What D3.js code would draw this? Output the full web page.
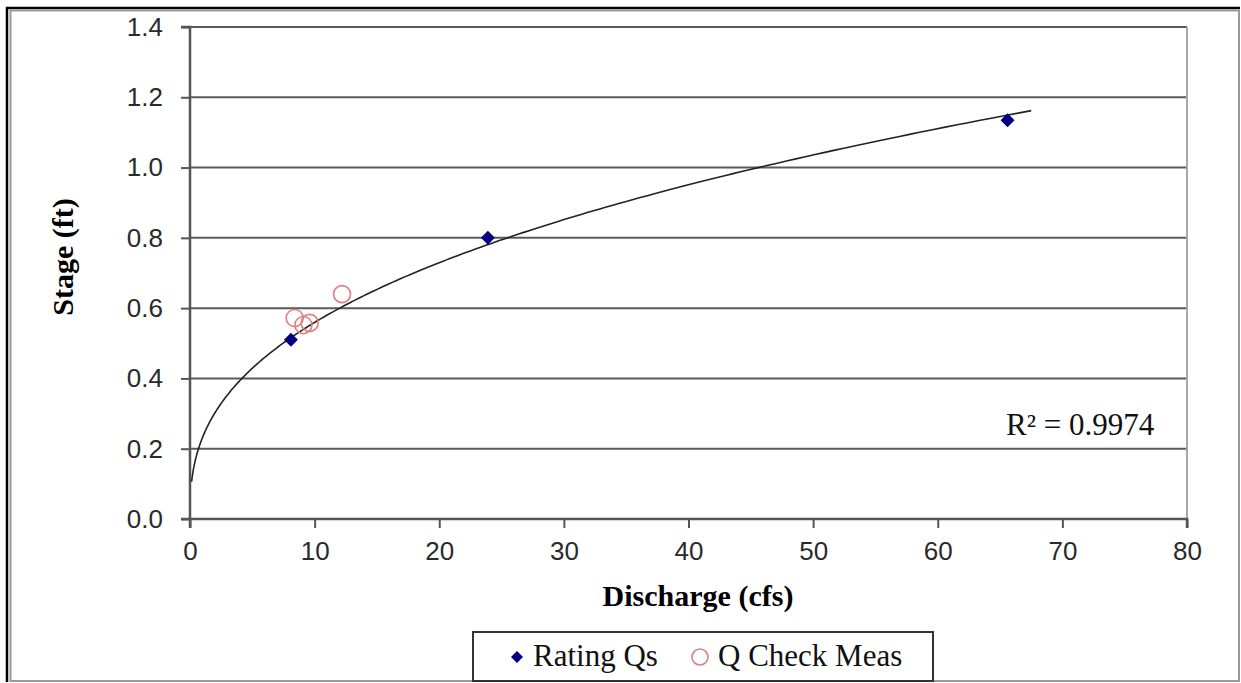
<!DOCTYPE html>
<html><head><meta charset="utf-8">
<script src="https://cdn.jsdelivr.net/npm/d3@7"></script>
<style>html,body{margin:0;padding:0;background:#fff;overflow:hidden}</style>
</head><body>
<svg id="c" width="1241" height="683"></svg>
<script>
// ---- data ----
const ratingQ = [8.1, 23.9, 65.6];          // discharge (cfs)
const ratingStage = [0.51, 0.80, 1.135];    // stage (ft)
const checkQ = [8.4, 9.1, 9.6, 12.2];
const checkStage = [0.572, 0.552, 0.558, 0.640];
const xTicks = [0, 10, 20, 30, 40, 50, 60, 70, 80];
const yTicks = [0.0, 0.2, 0.4, 0.6, 0.8, 1.0, 1.2, 1.4];
const trendExtent = [0.13, 67.5];
const r2Label = "R\u00B2 = 0.9974";
const seriesNames = ["Rating Qs", "Q Check Meas"];

const svg = d3.select("#c");
const x = d3.scaleLinear().domain([0, 80]).range([190, 1187]);
const y = d3.scaleLinear().domain([0, 1.4]).range([519, 27]);

// outer frame
svg.append("path").attr("d","M7,682 L7,8 L1240,8").attr("fill","none").attr("stroke","#000").attr("stroke-width",2.5);
svg.append("rect").attr("x",10.5).attr("y",10.5).attr("width",1228.5).attr("height",670.5)
  .attr("fill","none").attr("stroke","#9a9a9a").attr("stroke-width",2);

// gridlines
svg.append("g").selectAll("line").data(yTicks.filter(d=>d>0)).join("line")
  .attr("x1", x(0)).attr("x2", x(80)).attr("y1", d=>y(d)).attr("y2", d=>y(d))
  .attr("stroke","#5a5a5a").attr("stroke-width",2);
// right plot border
svg.append("line").attr("x1",x(80)).attr("x2",x(80)).attr("y1",y(1.4)).attr("y2",y(0))
  .attr("stroke","#a8a8a8").attr("stroke-width",2);

// axes
const yAxis = d3.axisLeft(y).tickValues(yTicks).tickFormat(d3.format(".1f")).tickSize(9).tickPadding(18);
const xAxis = d3.axisBottom(x).tickValues(xTicks).tickFormat(d3.format("d")).tickSize(9).tickPadding(14);
const gy = svg.append("g").attr("transform",`translate(${x(0)},0)`).call(yAxis);
const gx = svg.append("g").attr("transform",`translate(0,${y(0)})`).call(xAxis);
[gx, gy].forEach(g=>{
  g.select(".domain").attr("stroke","#555").attr("stroke-width",2.5);
  g.selectAll(".tick line").attr("stroke","#555").attr("stroke-width",2);
  g.selectAll(".tick text").attr("fill","#2a2a2a").style("font-family","'Liberation Sans', Arial, sans-serif").style("font-size","26px");
});
gx.select(".domain").attr("d", `M${x(0)},9V0H${x(80)}V9`);
gy.select(".domain").attr("d", `M-9,${y(1.4)}H0V${y(0)}H-9`);

// power trendline fitted to rating points (log-log least squares)
const lx = ratingQ.map(Math.log), ly = ratingStage.map(Math.log);
const mx = d3.mean(lx), my = d3.mean(ly);
const b = d3.sum(lx.map((v,i)=>(v-mx)*(ly[i]-my))) / d3.sum(lx.map(v=>(v-mx)**2));
const a = Math.exp(my - b*mx);
const trendQ = d3.range(0, 401).map(i => trendExtent[0] * Math.pow(trendExtent[1]/trendExtent[0], i/400));
svg.append("path").datum(trendQ)
  .attr("d", d3.line().x(d=>x(d)).y(d=>y(a*Math.pow(d,b))))
  .attr("fill","none").attr("stroke","#222").attr("stroke-width",1.6);

// check measurements
const circleColor = "#dd7f7f";
svg.append("g").selectAll("circle").data(checkQ).join("circle")
  .attr("cx",(d)=>x(d)).attr("cy",(d,i)=>y(checkStage[i])).attr("r",8.5)
  .attr("fill","none").attr("stroke",circleColor).attr("stroke-width",1.6);

// rating points
const diamond = (cx,cy,s)=>`M${cx},${cy-s}L${cx+s},${cy}L${cx},${cy+s}L${cx-s},${cy}Z`;
svg.append("g").selectAll("path").data(ratingQ).join("path")
  .attr("d",(d,i)=>diamond(x(d), y(ratingStage[i]), 7)).attr("fill","#000080");

// R² label
svg.append("text").attr("x",1006).attr("y",435).text(r2Label)
  .style("font-family","'Liberation Serif', 'Times New Roman', serif").style("font-size","31px").attr("fill","#111");

// axis titles
svg.append("text").attr("x",698).attr("y",606).attr("text-anchor","middle").text("Discharge (cfs)")
  .style("font-family","'Liberation Serif', 'Times New Roman', serif").style("font-size","30px").style("font-weight","bold").attr("fill","#000");
svg.append("text").attr("transform","translate(73,257) rotate(-90)").attr("text-anchor","middle").text("Stage (ft)")
  .style("font-family","'Liberation Serif', 'Times New Roman', serif").style("font-size","30px").style("font-weight","bold").attr("fill","#000");

// legend
svg.append("rect").attr("x",473).attr("y",632).attr("width",460).attr("height",49)
  .attr("fill","#fff").attr("stroke","#333").attr("stroke-width",2);
svg.append("path").attr("d",diamond(517,657,6)).attr("fill","#000080");
svg.append("circle").attr("cx",700).attr("cy",657).attr("r",8).attr("fill","none").attr("stroke",circleColor).attr("stroke-width",1.6);
svg.append("g").selectAll("text").data(seriesNames).join("text")
  .attr("x",(d,i)=>[533,718][i]).attr("y",666).text(d=>d)
  .style("font-family","'Liberation Serif', 'Times New Roman', serif").style("font-size","31px").attr("fill","#111");
</script>
</body></html>
